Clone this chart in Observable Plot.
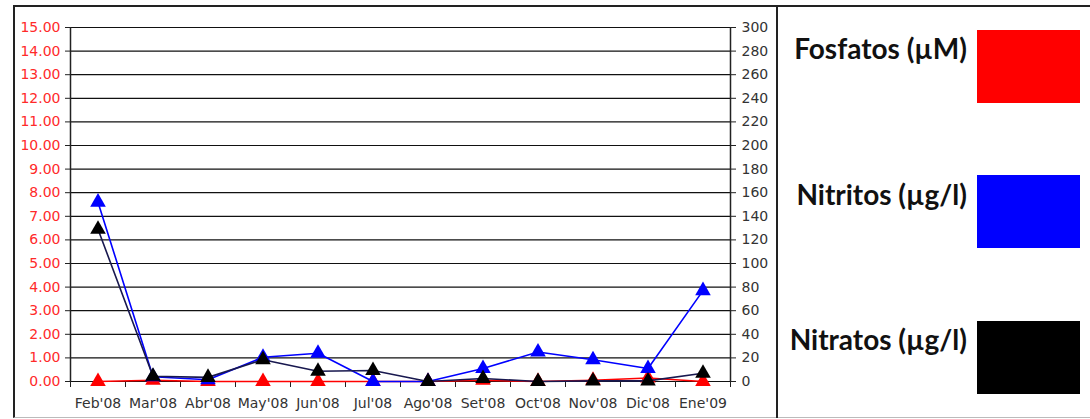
<!DOCTYPE html>
<html>
<head>
<meta charset="utf-8">
<script src="https://cdn.jsdelivr.net/npm/d3@7"></script>
<script src="https://cdn.jsdelivr.net/npm/@observablehq/plot@0.6"></script>
<style>
  html, body { margin: 0; padding: 0; background: #fff; width: 1090px; height: 419px; overflow: hidden; }
  #wrap { position: relative; width: 1090px; height: 419px; }
  #chart { position: absolute; left: 0; top: 0; }
  #frame { position: absolute; left: 13px; top: 5px; width: 1090px; height: 410px; border: 2px solid #222; border-bottom: 1px solid #bbb; pointer-events: none; }
  #divider { position: absolute; left: 776px; top: 5px; width: 2px; height: 413px; background: #222; }
  .lg-text { position: absolute; right: 123px; font-family: Lato, "Open Sans", sans-serif; font-weight: 700; font-size: 28px; line-height: 28px; color: #111; white-space: nowrap; }
  .lg-sw { position: absolute; left: 977px; width: 103px; height: 73px; }
</style>
</head>
<body>
<div id="wrap">
  <div id="chart"></div>
  <div id="frame"></div>
  <div id="divider"></div>
  <div id="legend"></div>
</div>
<script>
// ---- data ----
const months = ["Feb'08","Mar'08","Abr'08","May'08","Jun'08","Jul'08","Ago'08","Set'08","Oct'08","Nov'08","Dic'08","Ene'09"];
const fosfatos = [0, 0.05, 0, 0, 0, 0, 0, 0.05, 0, 0.05, 0.15, 0];        // µM, left axis
const nitritos = [152, 4, 1.5, 20.5, 24, 0, 0, 11, 25, 18.5, 11, 77];     // µg/l, right axis
const nitratos = [129, 4.5, 3.5, 18.5, 8.7, 9.3, 0, 2.5, 0, 0.5, 0.5, 7]; // µg/l, right axis
const leftTicks = d3.range(0, 16, 1);
const rightTicks = d3.range(0, 301, 20);
const seriesNames = ["Fosfatos (µM)", "Nitritos (µg/l)", "Nitratos (µg/l)"];
const seriesColors = ["#ff0000", "#0000ff", "#000000"];
const lineColors = ["#ff0000", "#0000ff", "#18184f"];

const ratio = 300 / 15; // right axis units per left axis unit
const rows = [];
months.forEach((m, i) => {
  rows.push({i, s: 0, y: fosfatos[i]});
  rows.push({i, s: 1, y: nitritos[i] / ratio});
  rows.push({i, s: 2, y: nitratos[i] / ratio});
});
const idx = months.map((_, i) => i);
const bounds = d3.range(-0.5, months.length, 1);
const font = "'DejaVu Sans', Verdana, sans-serif";

const marks = [
  Plot.ruleY(leftTicks, {stroke: "#111", strokeWidth: 1.2}),
  Plot.ruleX([-0.5, months.length - 0.5], {y1: 0, y2: 15, stroke: "#222", strokeWidth: 1.5}),
  Plot.axisY(leftTicks, {anchor: "left", tickSize: 5, tickPadding: 5, tickFormat: d => d.toFixed(2), fill: "#ff2a2a", fontSize: 14, stroke: "#222", label: null}),
  Plot.axisY(rightTicks.map(v => v / ratio), {anchor: "right", tickSize: 5, tickPadding: 6, tickFormat: d => String(Math.round(d * ratio)), fill: "#333", fontSize: 14, stroke: "#222", label: null}),
  Plot.axisX(bounds, {tickSize: 6, tickFormat: () => "", stroke: "#222", label: null}),
  Plot.axisX(idx, {tickSize: 0, tickPadding: 17, tickFormat: i => months[i], fill: "#333", fontSize: 14, label: null})
];
[0, 1, 2].forEach(s => {
  const d = rows.filter(r => r.s === s);
  marks.push(Plot.line(d, {x: "i", y: "y", stroke: lineColors[s], strokeWidth: 1.6}));
  marks.push(Plot.dot(d, {x: "i", y: "y", symbol: "triangle", r: 5.8, fill: seriesColors[s], stroke: "none"}));
});

const plot = Plot.plot({
  width: 778,
  height: 419,
  marginLeft: 70,
  marginRight: 48,
  marginTop: 27,
  marginBottom: 38,
  style: {background: "transparent", fontFamily: font, fontSize: "14px"},
  x: {type: "linear", domain: [-0.5, months.length - 0.5], axis: null},
  y: {domain: [0, 15], axis: null},
  marks
});
document.getElementById("chart").appendChild(plot);

// ---- legend ----
const legend = document.getElementById("legend");
const swTops = [30, 175, 321];
const textTops = [34, 180, 325];
seriesNames.forEach((name, k) => {
  const t = document.createElement("div");
  t.className = "lg-text";
  t.style.top = textTops[k] + "px";
  t.textContent = name;
  legend.appendChild(t);
  const sw = document.createElement("div");
  sw.className = "lg-sw";
  sw.style.top = swTops[k] + "px";
  sw.style.background = seriesColors[k];
  legend.appendChild(sw);
});
</script>
</body>
</html>
